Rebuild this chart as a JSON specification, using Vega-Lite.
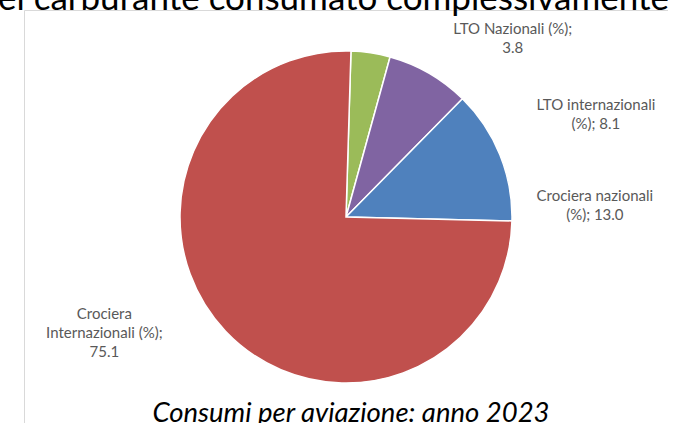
{
  "$schema": "https://vega.github.io/schema/vega-lite/v6.json",
  "width": 644,
  "height": 414,
  "autosize": {"type": "none"},
  "padding": {"left": 24, "top": 10, "right": 0, "bottom": 0},
  "background": "white",
  "view": {"stroke": "#d9d9d9", "strokeWidth": 1},
  "config": {"view": {"stroke": "#d9d9d9", "strokeWidth": 1}, "style": {"cell": {"stroke": "#d9d9d9", "strokeWidth": 1}}, "text": {"font": "Lato"}},
  "data": {"values": [
    {"cat": "LTO Nazionali (%)", "value": 3.8, "label": "LTO Nazionali (%);\n3.8"},
    {"cat": "LTO internazionali (%)", "value": 8.1, "label": "LTO internazionali\n(%); 8.1"},
    {"cat": "Crociera nazionali (%)", "value": 13.0, "label": "Crociera nazionali\n(%); 13.0"},
    {"cat": "Crociera Internazionali (%)", "value": 75.1, "label": "Crociera\nInternazionali (%);\n75.1"}
  ]},
  "layer": [
    {
      "mark": {"type": "arc", "outerRadius": 166, "stroke": "white", "strokeWidth": 1.5},
      "encoding": {
        "theta": {"field": "value", "type": "quantitative", "stack": true, "scale": {"range": [0.03, 6.3132]}},
        "order": {"field": "value", "type": "quantitative", "sort": "ascending"},
        "color": {"field": "cat", "type": "nominal", "legend": null,
          "scale": {"domain": ["LTO Nazionali (%)", "LTO internazionali (%)", "Crociera nazionali (%)", "Crociera Internazionali (%)"],
                    "range": ["#9BBB59", "#8064A2", "#4F81BD", "#C0504D"]}}
      }
    },
    {
      "mark": {"type": "text", "radius": 180, "dx": 140, "dy": -10, "lineBreak": "\n", "lineHeight": 19, "fontSize": 15, "color": "#595959", "align": "center", "baseline": "middle"},
      "encoding": {
        "theta": {"field": "value", "type": "quantitative", "stack": true},
        "order": {"field": "value", "type": "quantitative", "sort": "ascending"},
        "text": {"condition": {"test": "datum.cat === 'LTO Nazionali (%)'", "field": "label", "type": "nominal"}, "value": ""}
      }
    },
    {
      "mark": {"type": "text", "radius": 180, "dx": 160, "dy": 44, "lineBreak": "\n", "lineHeight": 19, "fontSize": 15, "color": "#595959", "align": "center", "baseline": "middle"},
      "encoding": {
        "theta": {"field": "value", "type": "quantitative", "stack": true},
        "order": {"field": "value", "type": "quantitative", "sort": "ascending"},
        "text": {"condition": {"test": "datum.cat === 'LTO internazionali (%)'", "field": "label", "type": "nominal"}, "value": ""}
      }
    },
    {
      "mark": {"type": "text", "radius": 180, "dx": 82, "dy": 47, "lineBreak": "\n", "lineHeight": 19, "fontSize": 15, "color": "#595959", "align": "center", "baseline": "middle"},
      "encoding": {
        "theta": {"field": "value", "type": "quantitative", "stack": true},
        "order": {"field": "value", "type": "quantitative", "sort": "ascending"},
        "text": {"condition": {"test": "datum.cat === 'Crociera nazionali (%)'", "field": "label", "type": "nominal"}, "value": ""}
      }
    },
    {
      "mark": {"type": "text", "radius": 180, "dx": -111, "dy": -27, "lineBreak": "\n", "lineHeight": 19, "fontSize": 15, "color": "#595959", "align": "center", "baseline": "middle"},
      "encoding": {
        "theta": {"field": "value", "type": "quantitative", "stack": true},
        "order": {"field": "value", "type": "quantitative", "sort": "ascending"},
        "text": {"condition": {"test": "datum.cat === 'Crociera Internazionali (%)'", "field": "label", "type": "nominal"}, "value": ""}
      }
    },
    {
      "data": {"values": [{"t": "Consumi per aviazione: anno 2023"}]},
      "mark": {"type": "text", "font": "Lato", "fontStyle": "italic", "fontSize": 27.5, "color": "black", "align": "center", "baseline": "alphabetic", "dx": 5, "dy": 205},
      "encoding": {"text": {"field": "t", "type": "nominal"}}
    },
    {
      "data": {"values": [{"t": "del carburante consumato complessivamente"}]},
      "mark": {"type": "text", "font": "Lato", "fontSize": 35, "color": "black", "align": "right", "baseline": "alphabetic", "dx": 323, "dy": -207},
      "encoding": {"text": {"field": "t", "type": "nominal"}}
    }
  ]
}
